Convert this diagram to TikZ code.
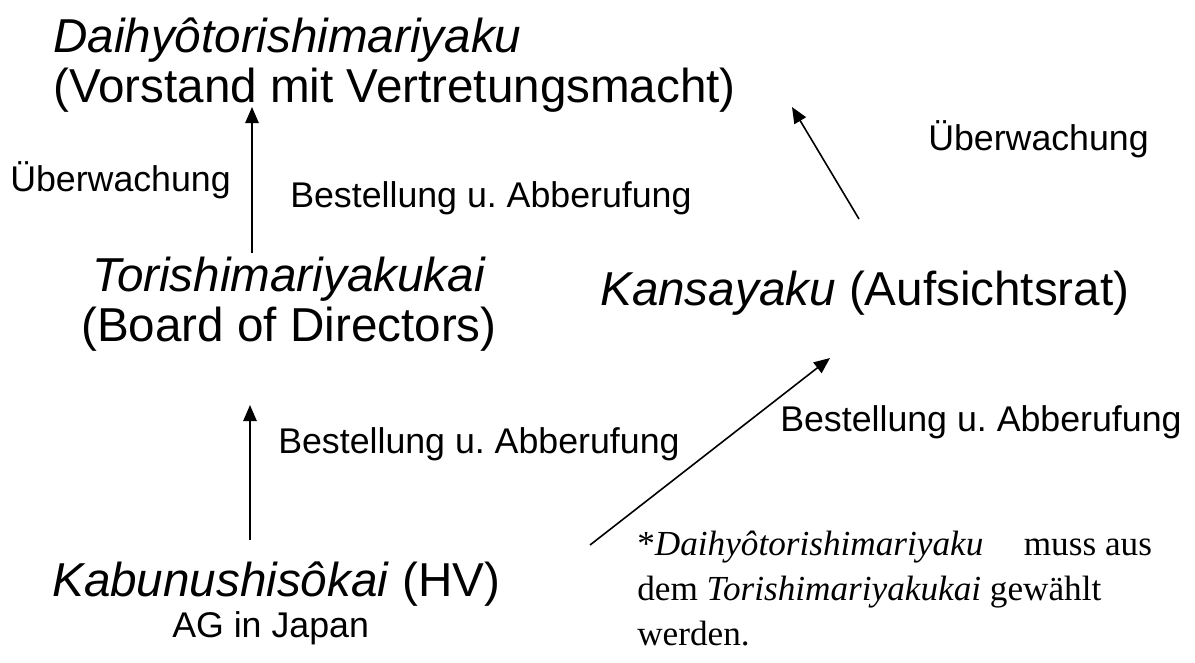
\documentclass[tikz,border=0pt]{standalone}
\usepackage{fontspec}
\setmainfont{Liberation Sans}
\newfontfamily\timesfont{Liberation Serif}
\usepackage{tikz}
\usetikzlibrary{arrows.meta}
\frenchspacing

\tikzset{
  bigtxt/.style={inner sep=0pt, font=\fontsize{35.7}{37.5}\selectfont},
  midtxt/.style={inner sep=0pt, font=\fontsize{26.8}{30}\selectfont},
  foottxt/.style={inner sep=0pt, align=left, font=\timesfont\fontsize{26.4}{33.8}\selectfont},
  arr/.style={-{Triangle[length=12pt,width=10pt]}, line width=1.2pt},
}

\begin{document}
\begin{tikzpicture}[x=0.75pt, y=-0.75pt]
  \useasboundingbox (0,0) rectangle (1195,662);

  % organs
  \node[bigtxt, align=left, anchor=north west] (dai) at (53,18) {\textit{Daihyôtorishimariyaku}\\(Vorstand mit Vertretungsmacht)};
  \node[bigtxt, align=center, anchor=north] (tor) at (289,257) {\textit{Torishimariyakukai}\\(Board of Directors)};
  \node[bigtxt, anchor=base west] (kan) at (600,305) {\textit{Kansayaku} (Aufsichtsrat)};
  \node[bigtxt, anchor=base west] (kab) at (52,596) {\textit{Kabunushisôkai} (HV)};

  % labels
  \node[midtxt, anchor=base west] (uew1) at (10,191) {Überwachung};
  \node[midtxt, anchor=base west] (bes1) at (290,207) {Bestellung u. Abberufung};
  \node[midtxt, anchor=base west] (uew2) at (928,150) {Überwachung};
  \node[midtxt, anchor=base west] (bes2) at (278,453) {Bestellung u. Abberufung};
  \node[midtxt, anchor=base west] (bes3) at (780,431) {Bestellung u. Abberufung};
  \node[midtxt, anchor=base west] (ag) at (172,637) {AG in Japan};

  \node[foottxt, anchor=north west] (note) at (637,531) {*\textit{Daihyôtorishimariyaku}\hspace{0.9em} muss aus\\dem \textit{Torishimariyakukai} gewählt\\werden.};

  % arrows
  \coordinate (torup) at (252,253);
  \coordinate (daidn) at (252,107);
  \coordinate (kanup) at (859,219);
  \coordinate (daidr) at (792,107);
  \coordinate (kabup) at (250,540);
  \coordinate (tordn) at (250,405);
  \coordinate (kabr) at (590,545);
  \coordinate (kandn) at (830,358);

  \draw[arr] (torup) -- (daidn);
  \draw[arr] (kanup) -- (daidr);
  \draw[arr] (kabup) -- (tordn);
  \draw[arr] (kabr) -- (kandn);
\end{tikzpicture}
\end{document}
